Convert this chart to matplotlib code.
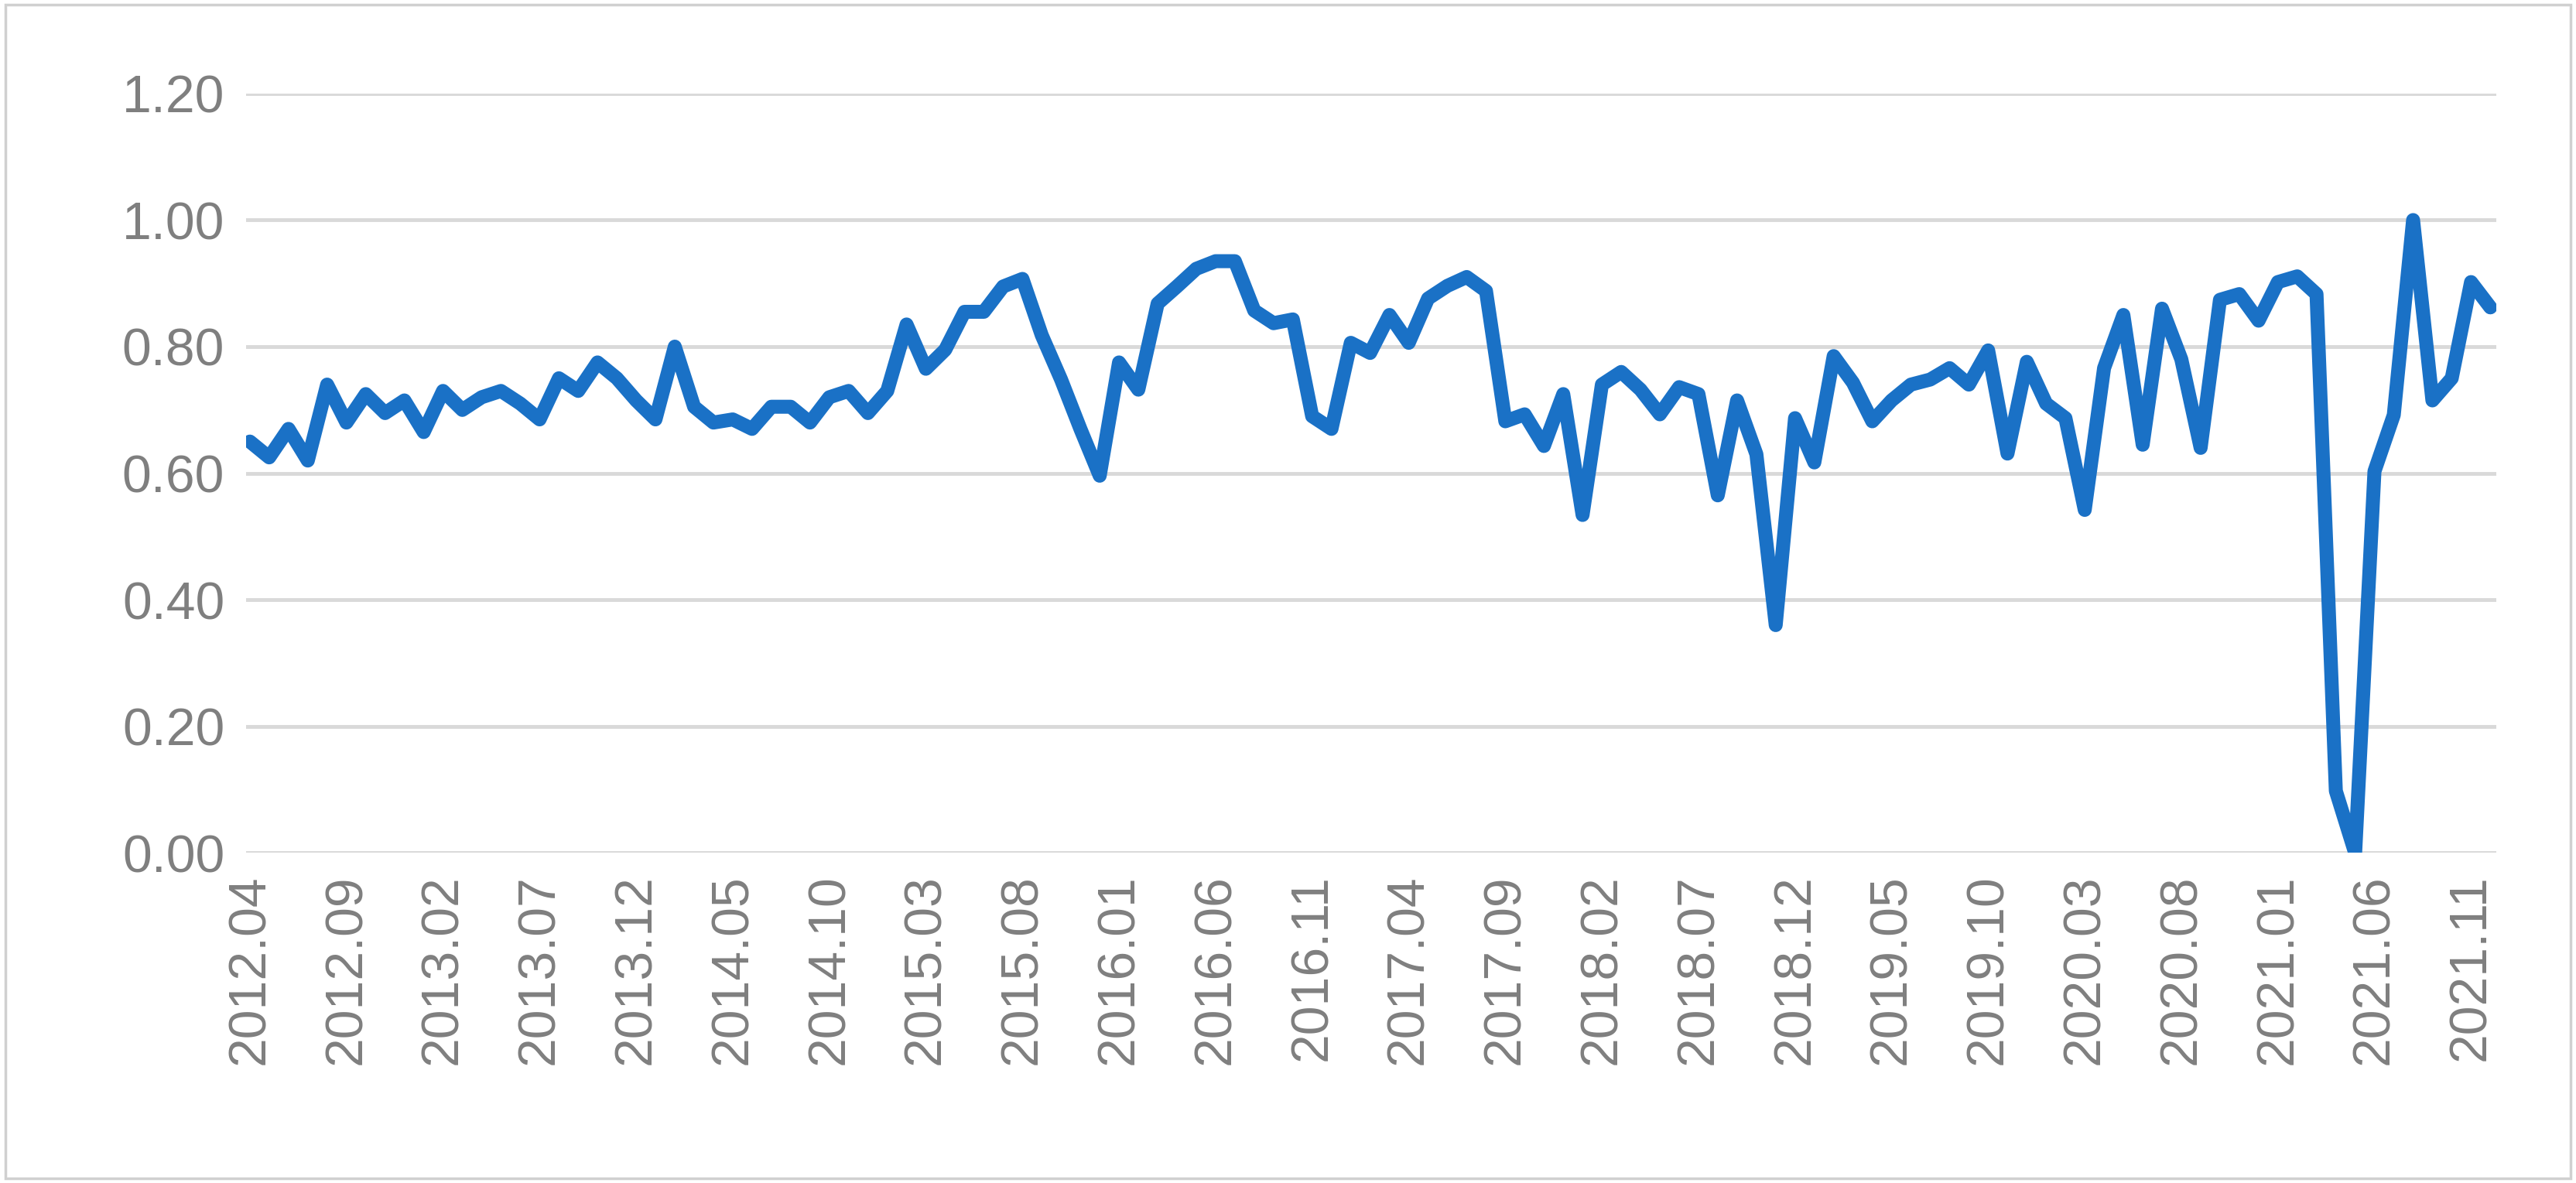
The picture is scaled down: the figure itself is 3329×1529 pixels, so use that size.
import matplotlib
matplotlib.use("Agg")
import matplotlib.pyplot as plt
from matplotlib.patches import Rectangle

# monthly series 2012.04 .. 2021.12
values_2012_2015 = [0.65, 0.625, 0.67, 0.62, 0.74, 0.68, 0.725, 0.695, 0.715, 0.665,
                    0.73, 0.70, 0.72, 0.73, 0.71, 0.685, 0.75, 0.73, 0.775, 0.75,
                    0.715, 0.685, 0.80, 0.705, 0.68, 0.685, 0.67, 0.705, 0.705, 0.68,
                    0.72, 0.73, 0.695, 0.73, 0.835, 0.765, 0.795, 0.855, 0.855, 0.895]
values_2015_2018 = [0.907, 0.818, 0.748, 0.67, 0.596, 0.775, 0.732, 0.868, 0.895, 0.923,
                    0.935, 0.935, 0.857, 0.837, 0.843, 0.69, 0.67, 0.806, 0.79, 0.85,
                    0.806, 0.876, 0.896, 0.91, 0.888, 0.682, 0.693, 0.643, 0.725, 0.534,
                    0.74, 0.76, 0.732, 0.693, 0.736, 0.725, 0.565]
values_2018_2021 = [0.715, 0.63, 0.36, 0.687, 0.617, 0.785, 0.743, 0.682, 0.715, 0.74,
                    0.748, 0.766, 0.74, 0.794, 0.631, 0.776, 0.71, 0.687, 0.542, 0.766,
                    0.85, 0.645, 0.86, 0.78, 0.64, 0.874, 0.883, 0.841, 0.902, 0.911,
                    0.883, 0.098, 0.0, 0.603, 0.692, 1.0, 0.715, 0.75, 0.902, 0.862]
values = values_2012_2015 + values_2015_2018 + values_2018_2021

months = []
y, m = 2012, 4
for _ in values:
    months.append(f"{y}.{m:02d}")
    m += 1
    if m > 12:
        y, m = y + 1, 1

y_ticks = [0.0, 0.2, 0.4, 0.6, 0.8, 1.0, 1.2]

fig = plt.figure(figsize=(33.29, 15.29), dpi=100)
fig.patches.append(Rectangle((0.002, 0.004), 0.996, 0.992, transform=fig.transFigure,
                             fill=False, edgecolor="#d0d0d0", linewidth=2.5))
ax = fig.add_axes([0.0955, 0.279, 0.8735, 0.642])

x = list(range(len(values)))
ax.plot(x, values, color="#1a71c6", linewidth=13, solid_joinstyle="round",
        solid_capstyle="round", zorder=3)

ax.set_ylim(0, 1.2)
ax.set_xlim(-0.2, len(values) - 0.7)
ax.set_yticks(y_ticks)
ax.set_yticklabels([f"{v:.2f}" for v in y_ticks])
ax.set_xticks(x[::5])
ax.set_xticklabels(months[::5], rotation=90)
ax.tick_params(axis="both", length=0, colors="#7f7f7f", labelsize=49, pad=20)
for lbl in ax.get_xticklabels() + ax.get_yticklabels():
    lbl.set_family("Liberation Sans")
ax.grid(axis="y", color="#d9d9d9", linewidth=3.5, zorder=0)
for s in ax.spines.values():
    s.set_visible(False)

fig.savefig("out.png", dpi=100)
